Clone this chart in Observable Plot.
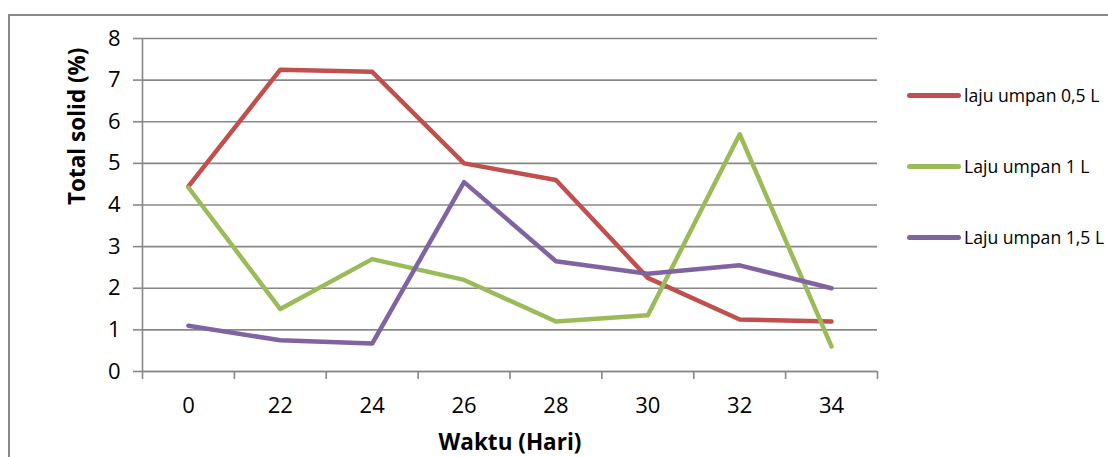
<!DOCTYPE html>
<html>
<head>
<meta charset="utf-8">
<script src="https://cdn.jsdelivr.net/npm/d3@7"></script>
<script src="https://cdn.jsdelivr.net/npm/@observablehq/plot@0.6"></script>
<style>
  html, body { margin: 0; padding: 0; background: #fff; }
  #wrap { position: relative; width: 1108px; height: 457px; overflow: hidden; font-family: "Open Sans", sans-serif; }
  #border { position: absolute; left: 8px; top: 14px; width: 1300px; height: 700px; border: 2px solid #888; box-sizing: border-box; }
  #chart { position: absolute; left: 0; top: 0; }
  .leg { position: absolute; left: 907px; height: 20px; display: flex; align-items: center; font-size: 17.6px; color: #000; white-space: nowrap; }
  .leg .sw { width: 54px; height: 5px; border-radius: 3px; margin-right: 3px; }
</style>
</head>
<body>
<div id="wrap">
  <div id="border"></div>
  <div id="chart"></div>
  <div id="legend"></div>
</div>
<script>
const categories = ["0", "22", "24", "26", "28", "30", "32", "34"];
const seriesNames = ["laju umpan 0,5 L", "Laju umpan 1 L", "Laju umpan 1,5 L"];
const seriesColors = ["#C0504D", "#9BBB59", "#8064A2"];
const laju05 = [4.45, 7.25, 7.2, 5.0, 4.6, 2.25, 1.25, 1.2];
const laju1 = [4.42, 1.5, 2.7, 2.2, 1.2, 1.35, 5.7, 0.6];
const laju15 = [1.1, 0.75, 0.67, 4.55, 2.65, 2.35, 2.55, 2.0];
const yTicks = [0, 1, 2, 3, 4, 5, 6, 7, 8];
const xTitle = "Waktu (Hari)";
const yTitle = "Total solid (%)";

const allSeries = [laju05, laju1, laju15];
const data = [];
allSeries.forEach((vals, s) => vals.forEach((v, i) => data.push({series: seriesNames[s], i, cat: categories[i], value: v})));
const idx = categories.map((_, i) => i);
const boundaries = d3.range(categories.length + 1).map(i => i - 0.5);

const gray = "#888";
const chart = Plot.plot({
  width: 1108,
  height: 457,
  marginLeft: 142,
  marginRight: 231,
  marginTop: 38,
  marginBottom: 86,
  style: {fontFamily: "Open Sans, sans-serif", background: "transparent", overflow: "visible"},
  x: {type: "linear", domain: [-0.5, categories.length - 0.5]},
  y: {domain: [0, 8]},
  color: {domain: seriesNames, range: seriesColors},
  marks: [
    Plot.gridY(yTicks, {stroke: gray, strokeOpacity: 1, strokeWidth: 1.6}),
    Plot.axisY({ticks: yTicks, tickSize: 9, tickPadding: 13, stroke: gray, strokeWidth: 1.6, fontSize: 22, fill: "#000", label: null, tickFormat: d => String(d)}),
    Plot.ruleX([-0.5], {stroke: gray, strokeWidth: 1.6}),
    Plot.ruleY([0], {stroke: gray, strokeWidth: 1.6}),
    Plot.axisX({ticks: boundaries, tickSize: 8, stroke: gray, strokeWidth: 1.6, tickFormat: () => "", label: null}),
    Plot.axisX({ticks: idx, tickSize: 0, tickPadding: 26, fontSize: 22, fill: "#000", tickFormat: i => categories[i], label: null}),
    Plot.line(data, {x: "i", y: "value", z: "series", stroke: "series", strokeWidth: 4.5, strokeLinejoin: "round", strokeLinecap: "round"}),
    Plot.text([xTitle], {frameAnchor: "bottom", dy: 71, lineAnchor: "middle", fontSize: 22.5, fontWeight: "bold", fill: "#000"}),
    Plot.text([yTitle], {frameAnchor: "left", dx: -65, rotate: -90, lineAnchor: "middle", fontSize: 22.5, fontWeight: "bold", fill: "#000"})
  ]
});
document.getElementById("chart").appendChild(chart);

const legend = document.getElementById("legend");
const legendTops = [85, 156, 227];
seriesNames.forEach((name, k) => {
  const row = document.createElement("div");
  row.className = "leg";
  row.style.top = legendTops[k] + "px";
  row.innerHTML = `<div class="sw" style="background:${seriesColors[k]}"></div><span>${name}</span>`;
  legend.appendChild(row);
});
</script>
</body>
</html>
